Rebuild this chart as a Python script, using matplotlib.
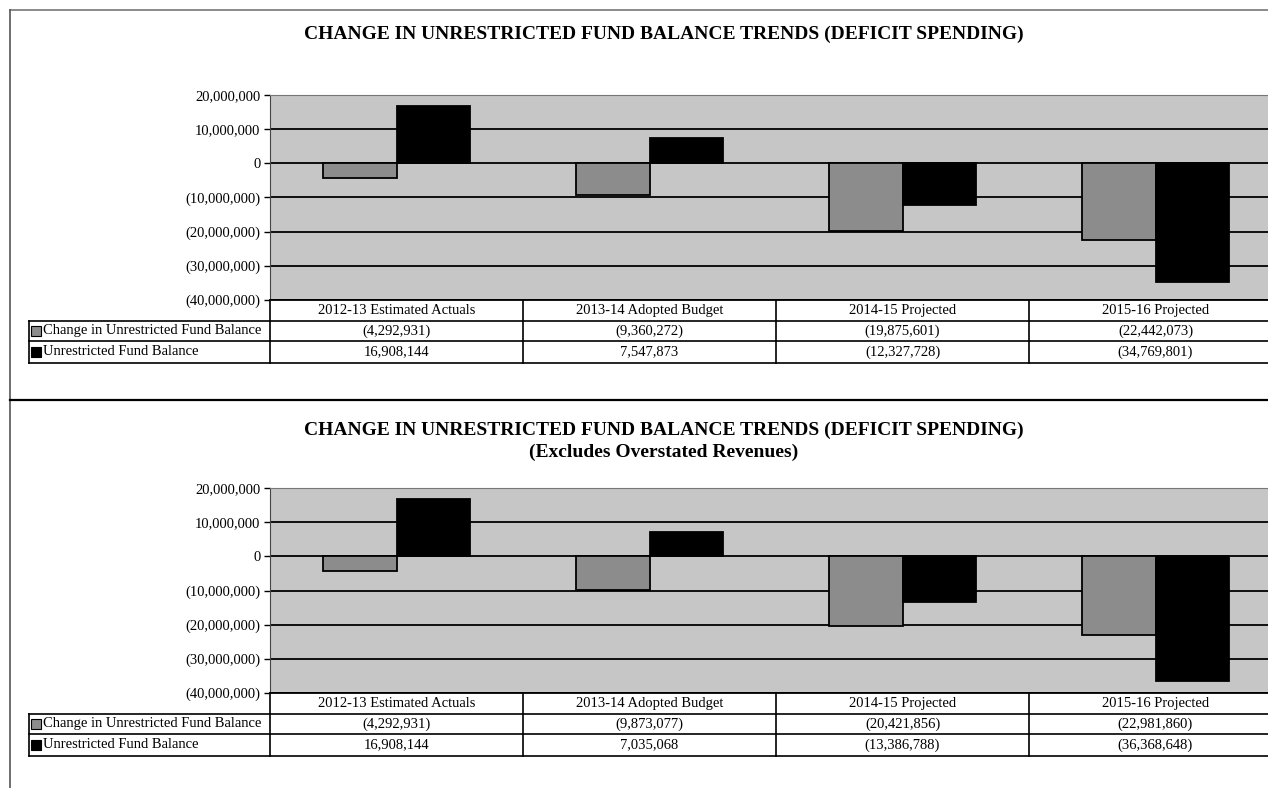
#!/usr/bin/env python
# -*- coding: utf-8 -*-

"""
	Two bar charts with data tables: change in unrestricted fund balance trends
	(deficit spending), as printed on a budget report page.
"""

import numpy as np
import matplotlib
matplotlib.use('Agg')
import matplotlib.pyplot as plt
from matplotlib.ticker import FuncFormatter, MultipleLocator
from matplotlib.transforms import blended_transform_factory
from matplotlib.lines import Line2D

plt.rcParams['font.family'] = ['Liberation Serif', 'DejaVu Serif']

# data
categories = ['2012-13 Estimated Actuals', '2013-14 Adopted Budget', '2014-15 Projected', '2015-16 Projected']
series_names = ['Change in Unrestricted Fund Balance', 'Unrestricted Fund Balance']
change_top = [-4292931, -9360272, -19875601, -22442073]
balance_top = [16908144, 7547873, -12327728, -34769801]
change_bottom = [-4292931, -9873077, -20421856, -22981860]
balance_bottom = [16908144, 7035068, -13386788, -36368648]
title_top = ['CHANGE IN UNRESTRICTED FUND BALANCE TRENDS (DEFICIT SPENDING)']
title_bottom = ['CHANGE IN UNRESTRICTED FUND BALANCE TRENDS (DEFICIT SPENDING)',
                '(Excludes Overstated Revenues)']

BG = '#c6c6c6'
GREY = '#8c8c8c'
W = 0.29
FS = 10.5

W_PX, H_PX = 1268, 788


def fmt(v):
	""" Accounting style number: negatives in parentheses."""
	if v < 0:
		return '({:,.0f})'.format(-v)
	return '{:,.0f}'.format(v)


def draw_panel(fig, ax_top_px, title_lines, title_y_px, change, balance):
	ax_h_px = 205.
	ax = fig.add_axes([270. / W_PX, 1 - (ax_top_px + ax_h_px) / H_PX, 1012. / W_PX, ax_h_px / H_PX])
	x = np.arange(len(categories))
	ax.set_facecolor(BG)
	ax.bar(x - W / 2, change, W, color=GREY, edgecolor='black', lw=1.3, zorder=3)
	ax.bar(x + W / 2, balance, W, color='black', edgecolor='black', lw=1.3, zorder=3)
	ax.set_xlim(-0.5, len(categories) - 0.5)
	ax.set_ylim(-40e6, 20e6)
	ax.yaxis.set_major_locator(MultipleLocator(10e6))
	ax.yaxis.set_major_formatter(FuncFormatter(lambda v, p: fmt(v)))
	ax.grid(axis='y', color='black', lw=1.3, zorder=1)
	ax.set_axisbelow(True)
	ax.set_xticks([])
	ax.tick_params(axis='y', length=4, width=1, pad=3, labelsize=FS)
	ax.spines['right'].set_visible(False)
	ax.spines['top'].set_color('#777777')
	ax.spines['left'].set_color('#444444')
	ax.spines['bottom'].set_linewidth(1.3)

	# data table below the plot, columns aligned with the categories
	tr = blended_transform_factory(ax.transData, ax.transAxes)
	px = 1. / ax_h_px
	unit_px = 1012. / len(categories)
	x_lab = -0.5 - (270. - 29.) / unit_px
	x_right = len(categories) - 0.5
	y_head, y_r1, y_r2 = -21 * px, -41 * px, -63 * px
	kw = dict(transform=tr, clip_on=False, color='black', lw=1.2)
	for y in [y_head, y_r1, y_r2]:
		ax.plot([x_lab, x_right], [y, y], **kw)
	ax.plot([x_lab, x_lab], [y_head, y_r2], **kw)
	for xc in np.arange(len(categories)) - 0.5:
		ax.plot([xc, xc], [0, y_r2], **kw)
	rows = [change, balance]
	row_y = [(y_head + y_r1) / 2, (y_r1 + y_r2) / 2]
	for i, cat in enumerate(categories):
		ax.text(i, y_head / 2, cat, ha='center', va='center', fontsize=FS, transform=tr)
		for vals, yy in zip(rows, row_y):
			ax.text(i, yy, fmt(vals[i]), ha='center', va='center', fontsize=FS, transform=tr)
	key_colors = [GREY, 'black']
	for name, col, yy in zip(series_names, key_colors, row_y):
		ax.plot([x_lab + 7. / unit_px], [yy], marker='s', ms=6.5, mfc=col, mec='black', mew=0.8,
		        transform=tr, clip_on=False)
		ax.text(x_lab + 14. / unit_px, yy, name, ha='left', va='center', fontsize=FS, transform=tr)

	for j, line in enumerate(title_lines):
		fig.text(664. / W_PX, 1 - (title_y_px + 22 * j) / H_PX, line, ha='center', va='center',
		         fontsize=14, fontweight='bold')
	return ax


def main():
	fig = plt.figure(figsize=(W_PX / 100., H_PX / 100.), dpi=100)

	# page borders
	fig.add_artist(Line2D([10. / W_PX, 1], [1 - 10. / H_PX] * 2, color='#777777', lw=1.2))
	fig.add_artist(Line2D([10. / W_PX] * 2, [0, 1 - 10. / H_PX], color='#555555', lw=1.2))
	fig.add_artist(Line2D([10. / W_PX, 1], [1 - 400. / H_PX] * 2, color='black', lw=1.6))

	draw_panel(fig, 95, title_top, 34, change_top, balance_top)
	draw_panel(fig, 488, title_bottom, 430, change_bottom, balance_bottom)

	fig.savefig('out.png', dpi=100)
	plt.close()


if __name__ == '__main__':
	main()
